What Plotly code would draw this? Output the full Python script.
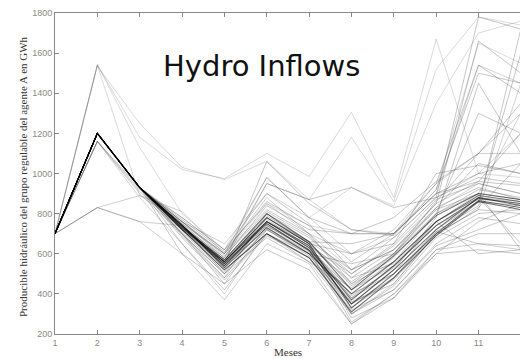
import plotly.graph_objects as go

months = list(range(1, 13))
y_ticks = [200, 400, 600, 800, 1000, 1200, 1400, 1600, 1800]

# dark (central) scenario paths
dark_paths = [
    [700, 1200, 930, 735, 550, 750, 615, 350, 520, 720, 880, 840],
    [700, 1200, 930, 740, 540, 760, 630, 370, 540, 740, 875, 850],
    [700, 1200, 930, 725, 560, 780, 650, 330, 500, 700, 865, 830],
    [700, 1200, 930, 745, 530, 730, 600, 400, 560, 760, 890, 860],
    [700, 1200, 930, 730, 570, 800, 660, 420, 590, 790, 900, 870],
    [700, 1200, 930, 720, 520, 700, 580, 310, 480, 690, 860, 820],
]

# gray paths branching at 1540 in month 2
high_branch = [
    [700, 1540, 1180, 1020, 975, 1100, 985, 1305, 880, 1670, 1000, 980],
    [700, 1535, 1250, 1030, 970, 1060, 870, 1180, 860, 1520, 1780, 1740],
    [700, 1545, 1130, 800, 620, 980, 780, 930, 840, 1350, 1700, 1760],
    [700, 1540, 890, 760, 600, 850, 740, 700, 700, 920, 1650, 1550],
]

# gray paths branching at 1160 in month 2
mid_branch = [
    [700, 1160, 920, 780, 620, 850, 700, 520, 620, 820, 950, 900],
    [700, 1160, 900, 700, 480, 800, 650, 450, 560, 760, 900, 1300],
    [700, 1160, 880, 650, 400, 720, 600, 300, 450, 700, 820, 1450],
    [700, 1160, 930, 760, 650, 900, 780, 600, 680, 880, 1000, 1200],
    [700, 1160, 910, 720, 560, 950, 870, 720, 700, 900, 1540, 1450],
]

# gray paths branching at 830 in month 2
low_branch = [
    [700, 830, 890, 810, 600, 880, 700, 600, 720, 950, 1100, 1100],
    [700, 830, 760, 740, 500, 780, 650, 480, 550, 760, 880, 850],
    [700, 830, 760, 600, 370, 650, 550, 250, 400, 620, 650, 620],
]

# gray paths following the central branch
main_gray = [
    [700, 1200, 930, 740, 560, 760, 640, 380, 540, 760, 880, 860],
    [700, 1200, 930, 760, 600, 820, 700, 450, 600, 800, 920, 880],
    [700, 1200, 930, 720, 520, 700, 600, 330, 480, 720, 860, 840],
    [700, 1200, 930, 700, 500, 680, 560, 300, 440, 680, 800, 820],
    [700, 1200, 930, 780, 620, 900, 750, 520, 680, 880, 980, 950],
    [700, 1200, 930, 740, 580, 950, 870, 930, 830, 880, 1780, 1720],
    [700, 1200, 930, 730, 550, 1060, 850, 720, 690, 920, 1500, 1450],
    [700, 1200, 930, 750, 600, 980, 780, 700, 700, 950, 1540, 1400],
    [700, 1200, 930, 700, 450, 740, 620, 420, 560, 800, 1300, 1200],
    [700, 1200, 930, 650, 420, 700, 580, 350, 520, 780, 1450, 1100],
    [700, 1200, 930, 740, 550, 800, 680, 500, 640, 850, 1660, 1500],
    [700, 1200, 930, 720, 530, 760, 660, 650, 700, 900, 1000, 1050],
    [700, 1200, 930, 760, 580, 840, 720, 700, 780, 960, 1100, 1300],
    [700, 1200, 930, 740, 560, 780, 650, 600, 650, 870, 950, 900],
    [700, 1200, 930, 700, 500, 720, 600, 550, 600, 820, 900, 870],
    [700, 1200, 930, 740, 570, 750, 620, 400, 500, 760, 880, 650],
    [700, 1200, 930, 720, 540, 730, 610, 360, 450, 700, 820, 800],
    [700, 1200, 930, 680, 470, 690, 580, 320, 420, 650, 780, 750],
    [700, 1200, 930, 740, 560, 760, 640, 280, 380, 620, 700, 700],
    [700, 1200, 930, 720, 550, 740, 620, 260, 400, 600, 620, 600],
    [700, 1200, 930, 740, 560, 780, 660, 440, 580, 800, 900, 620],
    [700, 1200, 930, 760, 590, 810, 690, 480, 620, 830, 930, 870],
    [700, 1200, 930, 740, 550, 760, 630, 420, 540, 740, 860, 1600],
    [700, 1200, 930, 730, 540, 750, 620, 380, 500, 710, 840, 1720],
    [700, 1200, 930, 710, 510, 720, 590, 350, 470, 690, 830, 1050],
    [700, 1200, 930, 740, 560, 770, 640, 460, 600, 830, 1050, 1000],
    [700, 1200, 930, 750, 570, 790, 660, 520, 620, 850, 960, 1200],
    [700, 1200, 930, 740, 560, 760, 640, 300, 420, 640, 720, 800],
    [700, 1200, 930, 740, 560, 760, 640, 390, 530, 760, 600, 620],
    [700, 1200, 930, 720, 540, 740, 620, 350, 480, 710, 650, 640],
    [700, 1200, 930, 600, 450, 620, 520, 250, 380, 600, 760, 850],
    [700, 1200, 930, 740, 560, 760, 640, 500, 650, 1000, 1040, 1000],
    [700, 1200, 930, 770, 610, 860, 740, 560, 700, 900, 960, 940],
    [700, 1200, 930, 690, 480, 700, 560, 430, 600, 860, 1100, 1350],
]

fig = go.Figure()

group_styles = [
    (high_branch, "rgba(70,70,70,0.20)"),
    (mid_branch, "rgba(70,70,70,0.24)"),
    (low_branch, "rgba(70,70,70,0.26)"),
    (main_gray, "rgba(70,70,70,0.30)"),
]
for group, col in group_styles:
    for path in group:
        fig.add_trace(go.Scatter(
            x=months, y=path, mode="lines",
            line=dict(color=col, width=1),
            hoverinfo="skip", showlegend=False))

for path in dark_paths:
    fig.add_trace(go.Scatter(
        x=months, y=path, mode="lines",
        line=dict(color="rgba(0,0,0,0.55)", width=1.1),
        hoverinfo="skip", showlegend=False))

L, R, T, B = 55, 0, 13, 24
W, H = 520, 358
pw, ph = W - L - R, H - T - B

def px_x(px):
    return (px - L) / pw

def px_y(py):
    return (H - B - py) / ph

axis_font = dict(family="Liberation Sans, Arial, sans-serif", size=9, color="#8a8a8a")

fig.update_layout(
    width=W, height=H,
    margin=dict(l=L, r=R, t=T, b=B),
    paper_bgcolor="white", plot_bgcolor="white",
    showlegend=False,
    xaxis=dict(range=[1, 1 + pw / 42.35], tickvals=months,
               ticks="inside", ticklen=4, tickcolor="#888888",
               showline=True, linecolor="#888888", linewidth=1, mirror="ticks",
               showgrid=False, zeroline=False, tickfont=axis_font),
    yaxis=dict(range=[200, 1800], tickvals=y_ticks,
               ticks="inside", ticklen=4, tickcolor="#888888",
               showline=True, linecolor="#888888", linewidth=1, mirror=False,
               showgrid=False, zeroline=False, tickfont=axis_font),
    annotations=[
        dict(text="Hydro Inflows", xref="paper", yref="paper",
             x=px_x(161), y=px_y(66), xanchor="left", yanchor="middle",
             showarrow=False,
             font=dict(family="DejaVu Sans", size=29, color="#111111")),
        dict(text="Producible hidráulico del grupo regulable del agente A en GWh",
             xref="paper", yref="paper", x=px_x(23), y=px_y(177),
             xanchor="center", yanchor="middle", textangle=-90, showarrow=False,
             font=dict(family="Liberation Serif, Times New Roman, serif", size=11,
                       color="#333333")),
        dict(text="Meses", xref="paper", yref="paper", x=px_x(288), y=px_y(352),
             xanchor="center", yanchor="middle", showarrow=False,
             font=dict(family="Liberation Serif, Times New Roman, serif", size=11,
                       color="#333333")),
    ],
)

fig.write_html("out.html")
